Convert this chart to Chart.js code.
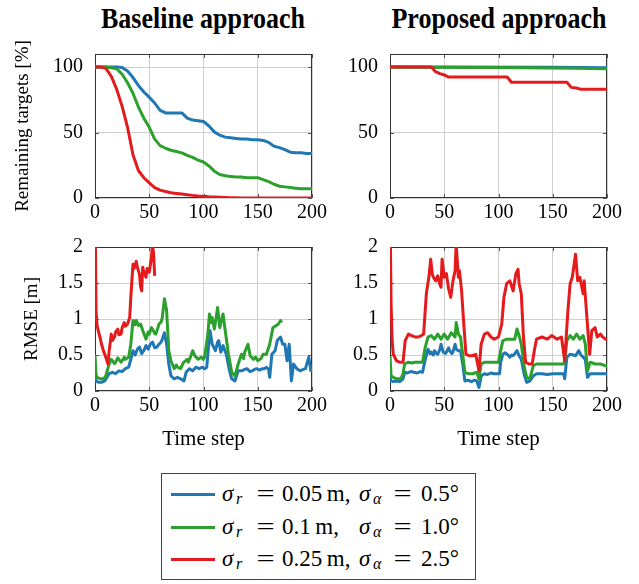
<!DOCTYPE html>
<html>
<head>
<meta charset="utf-8">
<script src="https://cdn.jsdelivr.net/npm/chart.js@4.4.1/dist/chart.umd.min.js"></script>
<style>
  body { margin: 0; background: #fff; }
  #page { position: relative; width: 639px; height: 584px; overflow: hidden; font-family: 'Liberation Serif', 'DejaVu Serif', serif; }
  canvas { position: absolute; }
  .title { position: absolute; top: 0px; width: 260px; text-align: center; font-weight: bold; font-size: 26px; line-height: 32px; transform: scaleY(1.15); transform-origin: top; }
  #legend { position: absolute; left: 161px; top: 473px; width: 313px; height: 105px; border: 1px solid #444; }
  .row { position: absolute; left: 0; height: 28px; width: 313px; font-size: 23px; line-height: 28px; }
  .row span { position: absolute; white-space: pre; }
  .sw { left: 9px; top: 13px; width: 44px; height: 3px; }
  .sub { font-size: 16px; font-style: italic; top: 5px; }
  .eq { transform: scaleX(1.4); }
</style>
</head>
<body>
<div id="page">
  <div class="title" style="left:73px">Baseline approach</div>
  <div class="title" style="left:369px">Proposed approach</div>
  <canvas id="remBase" width="340" height="195" style="left:0;top:30px"></canvas>
  <canvas id="remProp" width="309" height="195" style="left:330px;top:30px"></canvas>
  <canvas id="rmseBase" width="340" height="222" style="left:0;top:230px"></canvas>
  <canvas id="rmseProp" width="309" height="222" style="left:330px;top:230px"></canvas>
  <div id="legend"></div>
</div>
<script>
// ---- data ----
const seriesLabels = [
    ['r', '0.05', '0.5°'],
    ['r', '0.1', '1.0°'],
    ['r', '0.25', '2.5°']
];
const xTicks = [0, 50, 100, 150, 200];
const remTicks = [0, 50, 100];
const rmseTicks = [0, 0.5, 1, 1.5, 2];

// remaining targets [%], baseline, every 5 time steps
const tRem = [0,5,10,15,20,25,30,35,40,45,50,55,60,65,70,75,80,85,90,95,100,105,110,115,120,125,130,135,140,145,150,155,160,165,170,175,180,185,190,195,200];
const remBaseBlue  = [100,100,100,100,100,99.7,97,92,86,81,77,72.5,67,65,65,65,65,61,59.5,59,58.5,55,50.5,48,46.5,46,45.5,45,45,44.5,44.5,44,42.5,39.5,38.5,37,35,34.5,34.5,34,34];
const remBaseGreen = [100,100,100,99.5,98.7,94.5,88,80,69.5,61,54,45,40,38,36.5,35.5,34.5,32.5,31,29,27.5,24.5,20.5,18,17,16.5,16,16,15.5,15.5,15.5,14,12.5,10.5,9,8.5,8,7.5,7,7,7];
const remBaseRed   = [100,100,99,93,83,70,54,33,21,15.5,11.5,8,6,5,4,3.5,3,2.5,2,1.6,1.3,1,0.8,0.6,0.4,0.2,0.1,0,0,0,0,0,0,0,0,0,0,0,0,0,0];

// remaining targets [%], proposed  [t, value]
const remPropBlue  = [[0,100],[150,99.8],[200,99.5]];
const remPropGreen = [[0,100],[40,99.8],[100,99.6],[170,99.1],[200,98.8]];
const remPropRed   = [[0,100],[38,100],[42,96.5],[46,95],[50,94],[54,92.4],[108,92.4],[112,88.4],[163,88.4],[167,84.5],[172,84],[176,83],[200,83]];

// RMSE [m], baseline  [t, value]
const rmseBaseBlue = [[0,0.21],[1,0.14],[3,0.12],[6,0.12],[9,0.14],[11,0.19],[13,0.24],[16,0.26],[19,0.24],[22,0.28],[25,0.27],[28,0.31],[31,0.33],[33,0.44],[35,0.56],[37,0.5],[39,0.58],[41,0.61],[43,0.52],[45,0.56],[47,0.63],[49,0.58],[51,0.65],[53,0.68],[55,0.6],[57,0.61],[59,0.65],[61,0.68],[62,0.72],[64,0.81],[66,0.65],[68,0.375],[70,0.21],[73,0.17],[76,0.19],[79,0.17],[82,0.14],[84,0.26],[87,0.31],[90,0.28],[93,0.33],[96,0.31],[99,0.33],[101,0.31],[103,0.33],[104,0.51],[106,0.84],[108,0.65],[109,0.62],[111,0.56],[113,0.68],[114,0.7],[116,0.54],[118,0.63],[121,0.51],[124,0.28],[126,0.17],[129,0.14],[132,0.28],[135,0.28],[138,0.3],[140,0.31],[143,0.27],[145,0.28],[147,0.3],[149,0.31],[152,0.29],[154,0.31],[156,0.31],[158,0.33],[160,0.3],[161,0.19],[163,0.51],[166,0.56],[168,0.7],[171,0.75],[173,0.65],[175,0.65],[177,0.42],[179,0.65],[181,0.14],[183,0.375],[186,0.31],[189,0.28],[192,0.3],[194,0.31],[197,0.47],[199,0.28],[200,0.31]];
const rmseBaseGreen = [[0,0.5],[1,0.22],[2,0.19],[5,0.17],[8,0.17],[10,0.21],[13,0.375],[15,0.44],[16,0.42],[18,0.38],[19,0.4],[21,0.46],[22,0.44],[24,0.4],[25,0.42],[27,0.47],[28,0.44],[31,0.47],[33,0.65],[35,0.98],[37,0.92],[38,0.98],[40,0.91],[42,0.93],[44,0.84],[45,0.8],[47,0.72],[49,0.82],[50,0.79],[52,0.88],[53,0.86],[55,0.8],[56,0.79],[58,0.88],[59,0.93],[61,0.96],[62,1.02],[64,1.28],[66,1.12],[68,0.56],[70,0.42],[73,0.31],[75,0.36],[76,0.33],[79,0.31],[81,0.38],[82,0.4],[85,0.44],[86,0.4],[88,0.47],[90,0.56],[92,0.49],[95,0.44],[98,0.47],[100,0.44],[101,0.47],[104,0.79],[105.5,1.07],[107,0.95],[108,1.02],[110,0.86],[111,0.95],[113,1.16],[115,0.88],[116,0.95],[118,1.07],[120,0.84],[123,0.51],[126,0.26],[129,0.21],[132,0.375],[135,0.51],[137,0.45],[138,0.54],[141,0.65],[143,0.49],[146,0.44],[148,0.47],[150,0.42],[153,0.45],[155,0.51],[158,0.51],[161,0.65],[164,0.88],[167,0.91],[169,0.93],[171,0.98],[172,0.95]];
const rmseBaseRed = [[0,2.6],[1,1.1],[2,0.9],[3,0.84],[5,0.72],[6,0.65],[8,0.55],[9,0.51],[11,0.42],[12,0.375],[13,0.55],[15,0.79],[16,0.7],[18,0.75],[19,0.82],[21,0.86],[22,0.78],[24,0.79],[25,0.88],[27,0.95],[28,0.9],[30,0.93],[32,1.02],[33,1.3],[35,1.76],[36,1.7],[38,1.8],[39,1.72],[41,1.62],[42,1.45],[43,1.39],[44,1.72],[45,1.65],[47,1.58],[48,1.7],[50,1.65],[51,1.75],[52,1.85],[53,2.05],[54,1.9],[55,1.6]];

// RMSE [m], proposed  [t, value]
const rmsePropBlue = [[0,0.19],[1,0.14],[3,0.13],[6,0.14],[9,0.13],[12,0.17],[13.5,0.26],[16,0.25],[19,0.27],[22,0.26],[25,0.25],[28,0.27],[30,0.26],[32.5,0.44],[35,0.58],[37,0.52],[38,0.54],[40,0.5],[41,0.56],[43,0.52],[44,0.51],[46,0.58],[47,0.65],[49,0.54],[51,0.52],[52,0.54],[54,0.6],[55,0.56],[57,0.52],[58,0.54],[60,0.65],[61,0.58],[63,0.56],[65,0.56],[67,0.375],[69,0.14],[72,0.15],[75,0.13],[78,0.15],[80,0.14],[82,0.05],[84,0.21],[87,0.24],[90,0.23],[93,0.25],[96,0.24],[99,0.24],[101,0.24],[102,0.4],[104,0.51],[106,0.53],[108,0.51],[110.5,0.47],[112,0.5],[113.5,0.49],[115,0.52],[117,0.56],[119,0.49],[121,0.44],[124,0.21],[126,0.12],[129,0.14],[132,0.21],[135,0.24],[140,0.24],[145,0.23],[150,0.24],[155,0.24],[160,0.24],[161,0.17],[163,0.47],[166,0.51],[169,0.5],[171,0.49],[174,0.56],[176,0.5],[178,0.47],[180,0.44],[182,0.19],[184.5,0.24],[189,0.24],[194,0.24],[199,0.24],[200,0.24]];
const rmsePropGreen = [[0,0.49],[1,0.21],[3,0.19],[6,0.17],[10,0.17],[12,0.24],[13.5,0.375],[17,0.4],[20,0.39],[23,0.4],[26,0.4],[30,0.4],[32.5,0.61],[35,0.75],[38,0.77],[41,0.72],[44,0.79],[47,0.72],[50,0.79],[53,0.72],[56.5,0.81],[60,0.75],[61,0.95],[63,0.79],[65,0.75],[67,0.51],[69,0.26],[72,0.24],[76,0.24],[80,0.26],[82,0.17],[84,0.375],[87,0.4],[93,0.4],[100,0.4],[102,0.56],[104,0.7],[108,0.72],[112,0.72],[115,0.72],[117,0.86],[119,0.77],[121,0.65],[124,0.31],[126,0.19],[129,0.17],[132,0.35],[135,0.375],[145,0.375],[155,0.375],[160,0.375],[161,0.42],[163,0.7],[166,0.77],[169,0.72],[172,0.79],[175,0.72],[178,0.77],[180,0.65],[182,0.28],[184.5,0.4],[189,0.375],[194,0.375],[199,0.35],[200,0.35]];
const rmsePropRed = [[0,2.6],[1,1.2],[2,0.7],[3,0.51],[6,0.42],[9,0.4],[12,0.4],[14,0.7],[17,0.79],[20,0.77],[23,0.75],[26,0.75],[29,0.77],[31,0.79],[33.5,1.35],[36,1.6],[37.5,1.83],[39,1.62],[40,1.58],[42,1.53],[44,1.6],[45.5,1.5],[47,1.44],[48,1.83],[50,1.58],[52,1.63],[54,1.42],[56,1.3],[58,1.53],[60,1.67],[61,2.05],[63,1.58],[64,1.67],[66,1.39],[68,0.93],[70,0.51],[73,0.49],[76,0.49],[79,0.51],[82,0.28],[84,0.65],[87,0.79],[90,0.81],[93,0.75],[96,0.72],[100,0.75],[103,0.93],[105,1.3],[107.5,1.49],[110.5,1.53],[113.5,1.39],[116,1.63],[118,1.69],[119,1.49],[121,1.35],[123,0.75],[125,0.4],[128,0.375],[131,0.375],[133,0.56],[135,0.72],[140,0.75],[145,0.72],[149,0.77],[154,0.72],[158,0.75],[161,0.42],[164,1.12],[166,1.49],[168,1.58],[171,1.9],[173,1.53],[175,1.58],[178,1.35],[179,1.53],[181,1.12],[184,0.51],[186,0.84],[189,0.88],[191,0.75],[194,0.79],[196,0.75],[199,0.72],[200,0.72]];

// ---- styles ----
const colors = ['#1f77b4', '#2ca02c', '#e41a1c'];
const SERIF = "'Liberation Serif', 'DejaVu Serif', serif";
Chart.defaults.font.family = SERIF;
Chart.defaults.font.size = 20;
Chart.defaults.color = '#000';

function pairs(arr) {
    return arr.map(p => ({ x: p[0], y: p[1] }));
}
function zipT(t, v) {
    return t.map((x, i) => ({ x: x, y: v[i] }));
}

// box around plot area with small inner tick marks (pgfplots look)
const framePlugin = {
    id: 'frame',
    beforeDatasetsDraw(chart) {
        const a = chart.chartArea, ctx = chart.ctx;
        const xs = chart.scales.x, ys = chart.scales.y;
        ctx.save();
        ctx.strokeStyle = '#555';
        ctx.lineWidth = 1;
        ctx.beginPath();
        xs.ticks.forEach(t => {
            const px = Math.round(xs.getPixelForValue(t.value)) + 0.5;
            ctx.moveTo(px, a.bottom); ctx.lineTo(px, a.bottom - 4);
            ctx.moveTo(px, a.top); ctx.lineTo(px, a.top + 4);
        });
        ys.ticks.forEach(t => {
            const py = Math.round(ys.getPixelForValue(t.value)) + 0.5;
            ctx.moveTo(a.left, py); ctx.lineTo(a.left + 4, py);
            ctx.moveTo(a.right, py); ctx.lineTo(a.right - 4, py);
        });
        ctx.stroke();
        ctx.strokeStyle = '#333';
        ctx.strokeRect(Math.round(a.left) + 0.5, Math.round(a.top) + 0.5,
            Math.round(a.right - a.left) - 1, Math.round(a.bottom - a.top) - 1);
        ctx.restore();
    }
};

function makeChart(id, datasets, cfg) {
    return new Chart(document.getElementById(id), {
        type: 'line',
        data: {
            datasets: datasets.map((d, i) => ({
                data: d,
                borderColor: colors[i],
                borderWidth: 3,
                pointRadius: 0,
                tension: 0,
                borderJoinStyle: 'round',
                clip: 0,
                order: 3 - i
            }))
        },
        options: {
            responsive: false,
            animation: false,
            devicePixelRatio: 1,
            layout: { padding: cfg.padding },
            plugins: { legend: { display: false }, tooltip: { enabled: false } },
            scales: {
                x: {
                    type: 'linear', min: 0, max: 200,
                    afterBuildTicks: s => { s.ticks = xTicks.map(v => ({ value: v })); },
                    afterFit: s => { s.height = cfg.xHeight; s.paddingLeft = 0; s.paddingRight = 0; },
                    grid: { color: '#cfcfcf', drawTicks: false },
                    border: { display: false },
                    ticks: { font: { family: SERIF, size: 20 }, color: '#000', padding: 3, maxRotation: 0, callback: v => String(v) },
                    title: cfg.xTitle ? { display: true, text: cfg.xTitle, font: { family: SERIF, size: 21 }, color: '#000', padding: 0 } : { display: false }
                },
                y: {
                    type: 'linear', min: 0, max: cfg.yMax,
                    afterBuildTicks: s => { s.ticks = cfg.yTicks.map(v => ({ value: v })); },
                    afterFit: s => { s.width = cfg.yWidth; s.paddingTop = 0; s.paddingBottom = 0; },
                    grid: { color: '#cfcfcf', drawTicks: false },
                    border: { display: false },
                    ticks: { font: { family: SERIF, size: 20 }, color: '#000', padding: 12, callback: v => String(v) },
                    title: cfg.yTitle ? { display: true, text: cfg.yTitle, font: { family: SERIF, size: 19 }, color: '#000', padding: { top: cfg.yTitlePad } } : { display: false }
                }
            }
        },
        plugins: [framePlugin]
    });
}

makeChart('remBase',
    [zipT(tRem, remBaseBlue), zipT(tRem, remBaseGreen), zipT(tRem, remBaseRed)],
    { padding: { top: 24, right: 28, left: 0, bottom: 0 }, xHeight: 27, yWidth: 95, yMax: 110, yTicks: remTicks, yTitle: 'Remaining targets [%]', yTitlePad: 12 });

makeChart('remProp',
    [pairs(remPropBlue), pairs(remPropGreen), pairs(remPropRed)],
    { padding: { top: 24, right: 32, left: 0, bottom: 0 }, xHeight: 27, yWidth: 60, yMax: 110, yTicks: remTicks });

makeChart('rmseBase',
    [pairs(rmseBaseBlue), pairs(rmseBaseGreen), pairs(rmseBaseRed)],
    { padding: { top: 17, right: 28, left: 0, bottom: 0 }, xHeight: 61, yWidth: 95, yMax: 2, yTicks: rmseTicks, yTitle: 'RMSE [m]', yTitlePad: 21, xTitle: 'Time step' });

makeChart('rmseProp',
    [pairs(rmsePropBlue), pairs(rmsePropGreen), pairs(rmsePropRed)],
    { padding: { top: 17, right: 32, left: 0, bottom: 0 }, xHeight: 61, yWidth: 60, yMax: 2, yTicks: rmseTicks, xTitle: 'Time step' });

// legend (math labels need sub-scripts, so it is plain HTML, pieces placed by hand)
const legend = document.getElementById('legend');
seriesLabels.forEach((s, i) => {
    const row = document.createElement('div');
    row.className = 'row';
    row.style.top = (6 + i * 32.5) + 'px';
    row.innerHTML =
        '<span class="sw" style="background:' + colors[i] + '"></span>' +
        '<span style="left:60px"><i>σ</i></span>' +
        '<span class="sub" style="left:74px">' + s[0] + '</span>' +
        '<span class="eq" style="left:97px">=</span>' +
        '<span style="left:120px">' + s[1] + '&thinsp;m,</span>' +
        '<span style="left:197px"><i>σ</i></span>' +
        '<span class="sub" style="left:211px">α</span>' +
        '<span class="eq" style="left:234px">=</span>' +
        '<span style="left:259px">' + s[2] + '</span>';
    legend.appendChild(row);
});
</script>
</body>
</html>
